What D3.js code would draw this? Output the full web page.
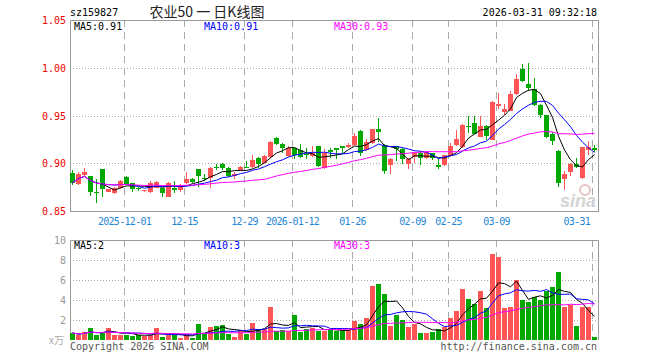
<!DOCTYPE html>
<html><head><meta charset="utf-8">
<script src="https://cdn.jsdelivr.net/npm/d3@7"></script>
<style>body{margin:0;background:#fff}svg{display:block}text{font-family:"DejaVu Sans Mono",monospace}</style>
</head><body><svg id="c" width="660" height="360"></svg>
<script>
const dates = [
"2025-11-18","2025-11-19","2025-11-20","2025-11-21","2025-11-24","2025-11-25","2025-11-26","2025-11-27","2025-11-28",
"2025-12-01","2025-12-02","2025-12-03","2025-12-04","2025-12-05","2025-12-08","2025-12-09","2025-12-10","2025-12-11","2025-12-12",
"2025-12-15","2025-12-16","2025-12-17","2025-12-18","2025-12-19","2025-12-22","2025-12-23","2025-12-24","2025-12-25","2025-12-26",
"2025-12-29","2025-12-30","2025-12-31","2026-01-05","2026-01-06","2026-01-07","2026-01-08","2026-01-09",
"2026-01-12","2026-01-13","2026-01-14","2026-01-15","2026-01-16","2026-01-19","2026-01-20","2026-01-21","2026-01-22","2026-01-23",
"2026-01-26","2026-01-27","2026-01-28","2026-01-29","2026-01-30","2026-02-02","2026-02-03","2026-02-04","2026-02-05","2026-02-06",
"2026-02-09","2026-02-10","2026-02-11","2026-02-12","2026-02-13","2026-02-24",
"2026-02-25","2026-02-26","2026-02-27","2026-03-02","2026-03-03","2026-03-04","2026-03-05","2026-03-06",
"2026-03-09","2026-03-10","2026-03-11","2026-03-12","2026-03-13","2026-03-16","2026-03-17","2026-03-18","2026-03-19","2026-03-20",
"2026-03-23","2026-03-24","2026-03-25","2026-03-26","2026-03-27","2026-03-30","2026-03-31"];

const opens = [0.890,0.879,0.888,0.887,0.870,0.894,0.870,0.869,0.875,0.886,
0.880,0.875,0.871,0.870,0.875,0.875,0.865,0.875,0.873,0.880,
0.884,0.894,0.885,0.885,0.897,0.900,0.896,0.887,0.893,0.897,
0.897,0.906,0.901,0.907,0.927,0.921,0.908,0.916,0.914,0.910,
0.908,0.919,0.896,0.914,0.916,0.919,0.918,0.920,0.934,0.914,
0.922,0.936,0.920,0.899,0.919,0.915,0.900,0.907,0.911,0.906,
0.911,0.899,0.899,0.908,0.920,0.918,0.940,0.943,0.928,0.940,
0.925,0.960,0.954,0.955,0.973,0.999,0.983,0.978,0.962,0.951,
0.931,0.913,0.884,0.891,0.900,0.885,0.914,0.916];

const closes = [0.880,0.889,0.891,0.870,0.869,0.874,0.874,0.875,0.882,0.879,
0.874,0.874,0.873,0.880,0.881,0.869,0.880,0.873,0.878,0.884,
0.881,0.887,0.884,0.896,0.896,0.896,0.887,0.889,0.897,0.896,
0.904,0.900,0.908,0.923,0.921,0.916,0.916,0.909,0.907,0.909,
0.911,0.898,0.911,0.912,0.914,0.917,0.920,0.929,0.911,0.923,
0.936,0.933,0.892,0.905,0.915,0.905,0.905,0.911,0.906,0.912,
0.906,0.897,0.909,0.919,0.926,0.941,0.939,0.931,0.940,0.929,
0.965,0.963,0.957,0.973,0.989,0.987,0.979,0.961,0.951,0.928,
0.924,0.880,0.889,0.900,0.897,0.918,0.918,0.914];

const highs = [0.893,0.891,0.896,0.887,0.884,0.894,0.874,0.876,0.883,0.887,
0.880,0.876,0.873,0.882,0.882,0.875,0.881,0.882,0.879,0.891,
0.885,0.895,0.889,0.897,0.900,0.901,0.897,0.891,0.898,0.903,
0.909,0.907,0.909,0.924,0.928,0.922,0.919,0.917,0.921,0.916,
0.919,0.919,0.915,0.916,0.917,0.919,0.922,0.932,0.935,0.926,
0.936,0.948,0.921,0.906,0.919,0.917,0.906,0.912,0.913,0.913,
0.911,0.905,0.909,0.922,0.935,0.942,0.950,0.950,0.950,0.941,
0.966,0.974,0.963,0.976,0.994,1.004,1.006,0.990,0.963,0.951,
0.933,0.914,0.892,0.901,0.906,0.918,0.924,0.920];

const lows = [0.878,0.878,0.887,0.866,0.859,0.865,0.870,0.868,0.874,0.878,
0.870,0.871,0.870,0.869,0.875,0.865,0.865,0.869,0.870,0.879,
0.880,0.876,0.882,0.875,0.893,0.893,0.886,0.884,0.892,0.896,
0.896,0.896,0.901,0.906,0.920,0.911,0.907,0.905,0.906,0.905,
0.907,0.897,0.895,0.906,0.905,0.911,0.917,0.919,0.908,0.913,
0.921,0.923,0.889,0.889,0.903,0.900,0.894,0.901,0.899,0.905,
0.904,0.895,0.898,0.907,0.919,0.917,0.932,0.931,0.928,0.925,
0.925,0.957,0.951,0.955,0.972,0.986,0.976,0.960,0.948,0.927,
0.920,0.876,0.872,0.887,0.896,0.884,0.909,0.912];

const volumes = [0.7,0.5,0.8,1.2,0.5,0.7,1.25,0.5,0.5,0.5,
0.45,0.5,0.45,0.5,1.25,0.3,0.5,0.5,0.25,0.6,
0.25,1.65,0.65,1.3,1.4,1.55,0.65,0.3,1.0,0.65,
1.75,1.1,1.15,3.35,0.9,1.0,0.9,2.55,0.85,1.15,
1.25,0.95,0.95,1.0,0.95,0.9,1.0,1.9,1.6,2.2,
5.4,5.6,4.6,1.4,2.5,2.0,1.3,1.6,0.7,0.7,
0.8,1.1,1.3,2.2,2.9,5.1,4.1,3.6,4.9,3.2,
8.6,8.3,3.2,3.3,6.0,4.0,3.8,4.3,4.0,4.9,
5.3,6.8,3.3,3.5,1.4,3.3,3.3,0.3];

const tickDates = ["2025-12-01","2025-12-15","2025-12-29","2026-01-12","2026-01-26","2026-02-09","2026-02-25","2026-03-09","2026-03-31"];
const tickLabels = ["2025-12-01","12-15","12-29","2026-01-12","01-26","02-09","02-25","03-09","03-31"];
const priceTicks = [0.85,0.90,0.95,1.00,1.05];
const volTicks = [2,4,6,8,10];
const maPeriods = [5,10,30];
const maColors = ["#000000","#0000ff","#ff00ff"];
const code = "sz159827";
const title = "农业50 一 日K线图";
const stamp = "2026-03-31 09:32:18";

const UP = "#ff5555", DOWN = "#00a800", FRAME = "#9a9a9a", GRID = "#aaaaaa";
const L = 70, R = 598, PT = 20, PB = 211, VT = 240, VB = 340;

const svg = d3.select("#c");
const x = d3.scaleBand().domain(dates).range([L, L + dates.length * 6 - 1]).paddingInner(1/6).paddingOuter(0);
const y = d3.scaleLinear().domain([0.85, 1.05]).range([PB + 0.5, PT + 0.5]);
const vy = d3.scaleLinear().domain([0, 10]).range([VB, VT]);
const bw = x.bandwidth();

function ma(arr, n) {
  return arr.map((_, i) => { const s = arr.slice(Math.max(0, i - n + 1), i + 1); return d3.mean(s); });
}
const priceMA = maPeriods.map(n => ma(closes, n));
const volMA = maPeriods.map(n => ma(volumes, n));
const idx = d3.range(dates.length);
const crisp = v => Math.round(v - 0.5) + 0.5;

// horizontal grids
const g = svg.append("g");
priceTicks.slice(1, -1).forEach(t => {
  g.append("line").attr("x1", L).attr("x2", R).attr("y1", crisp(y(t))).attr("y2", crisp(y(t)))
   .attr("stroke", GRID).attr("stroke-dasharray", "1,2");
});
volTicks.slice(0, -1).forEach(t => {
  g.append("line").attr("x1", L).attr("x2", R).attr("y1", vy(t) + 0.5).attr("y2", vy(t) + 0.5)
   .attr("stroke", GRID).attr("stroke-dasharray", "1,2");
});
// vertical dashed
tickDates.forEach(d => {
  const xx = x(d) + 0.5;
  [[PT, PB], [VT, VB]].forEach(([a, b]) => {
    g.append("line").attr("x1", xx).attr("x2", xx).attr("y1", a).attr("y2", b)
     .attr("stroke", GRID).attr("stroke-dasharray", "7,5");
  });
});

// watermark
const wm = svg.append("g");
wm.append("circle").attr("cx", 585).attr("cy", 190).attr("r", 5).attr("fill", "none").attr("stroke", "#e6c4c4").attr("stroke-width", 2);
wm.append("text").attr("x", 596).attr("y", 207).attr("text-anchor", "end")
  .attr("font-family", "Liberation Sans, Arial, sans-serif").attr("font-weight", "bold").attr("font-style", "italic")
  .attr("font-size", 18).attr("fill", "#d4d4d4").style("font-family", "Liberation Sans, sans-serif").text("sina");

// frames
const f = svg.append("g").attr("fill", "none").attr("stroke", FRAME);
f.append("path").attr("d", `M${L+0.5},${PB+0.5}V${PT+0.5}H${R+0.5}V${PB+0.5}`);
f.append("line").attr("x1", L).attr("x2", R + 1).attr("y1", PB + 0.5).attr("y2", PB + 0.5);
f.append("path").attr("d", `M${L+0.5},${VB}V${VT+0.5}H${R+0.5}V${VB}`);

// candles
const cg = svg.append("g").attr("shape-rendering", "crispEdges");
idx.forEach(i => {
  const up = closes[i] >= opens[i];
  const col = up ? UP : DOWN;
  const xx = x(dates[i]);
  const yh = Math.round(y(highs[i])), yl = Math.round(y(lows[i]));
  cg.append("rect").attr("x", xx + 2).attr("width", 1).attr("y", yh).attr("height", Math.max(1, yl - yh)).attr("fill", col);
  const t = Math.round(y(Math.max(opens[i], closes[i]))), b = Math.round(y(Math.min(opens[i], closes[i])));
  cg.append("rect").attr("x", xx).attr("width", bw).attr("y", t).attr("height", Math.max(1, b - t)).attr("fill", col);
  const vt = Math.round(vy(volumes[i]));
  cg.append("rect").attr("x", xx).attr("width", bw).attr("y", vt).attr("height", VB - vt).attr("fill", col);
});

// MA lines
const lg = svg.append("g").attr("fill", "none");
maPeriods.forEach((n, k) => {
  lg.append("path").attr("d", d3.line().x(i => x(dates[i]) + bw / 2).y(i => y(priceMA[k][i]))(idx))
    .attr("stroke", maColors[k]).attr("stroke-width", 1);
  lg.append("path").attr("d", d3.line().x(i => x(dates[i]) + bw / 2).y(i => vy(volMA[k][i]))(idx))
    .attr("stroke", maColors[k]).attr("stroke-width", 1);
});

// texts
const T = svg.append("g").attr("font-size", 10);
T.append("text").attr("x", 70).attr("y", 16).attr("fill", "#000").text(code);
T.append("text").attr("x", 207).attr("y", 17).attr("text-anchor", "middle").attr("font-size", 14)
  .style("font-family", "'Noto Sans CJK SC', sans-serif").attr("fill", "#222").text(title);
T.append("text").attr("x", 597).attr("y", 16).attr("text-anchor", "end").attr("fill", "#000").text(stamp);

priceTicks.forEach(t => {
  T.append("text").attr("x", 66).attr("y", y(t)).attr("dy", "0.35em").attr("text-anchor", "end")
   .attr("fill", "#ee0000").text(t.toFixed(2));
});
volTicks.forEach(t => {
  T.append("text").attr("x", 66).attr("y", vy(t)).attr("dy", "0.35em").attr("text-anchor", "end")
   .attr("fill", "#999").text(t);
});
T.append("text").attr("x", 64).attr("y", 344).attr("text-anchor", "end").attr("fill", "#aaa")
  .style("font-family", "'Noto Sans CJK SC', sans-serif").attr("font-size", 10).text("x万");

tickDates.forEach((d, k) => {
  let cx = x(d) + 0.5;
  const w = tickLabels[k].length * 5.3;
  if (cx + w / 2 > R - 8) cx = R - 8 - w / 2;
  T.append("text").attr("x", cx).attr("y", 225).attr("text-anchor", "middle").attr("fill", "#1f86d6")
   .attr("letter-spacing", "-0.7").text(tickLabels[k]);
});

const last = dates.length - 1;
const legX = [74, 204, 334];
maPeriods.forEach((n, k) => {
  T.append("text").attr("x", legX[k]).attr("y", 30).attr("fill", maColors[k])
   .text(`MA${n}:${priceMA[k][last].toFixed(2)}`);
  T.append("text").attr("x", legX[k]).attr("y", 249).attr("fill", maColors[k])
   .text(`MA${n}:${Math.floor(volMA[k][last])}`);
});
T.append("text").attr("x", 70).attr("y", 350).attr("fill", "#555").text("Copyright 2026 SINA.COM");
T.append("text").attr("x", 597).attr("y", 350).attr("text-anchor", "end").attr("fill", "#555").text("http://finance.sina.com.cn");
</script></body></html>
